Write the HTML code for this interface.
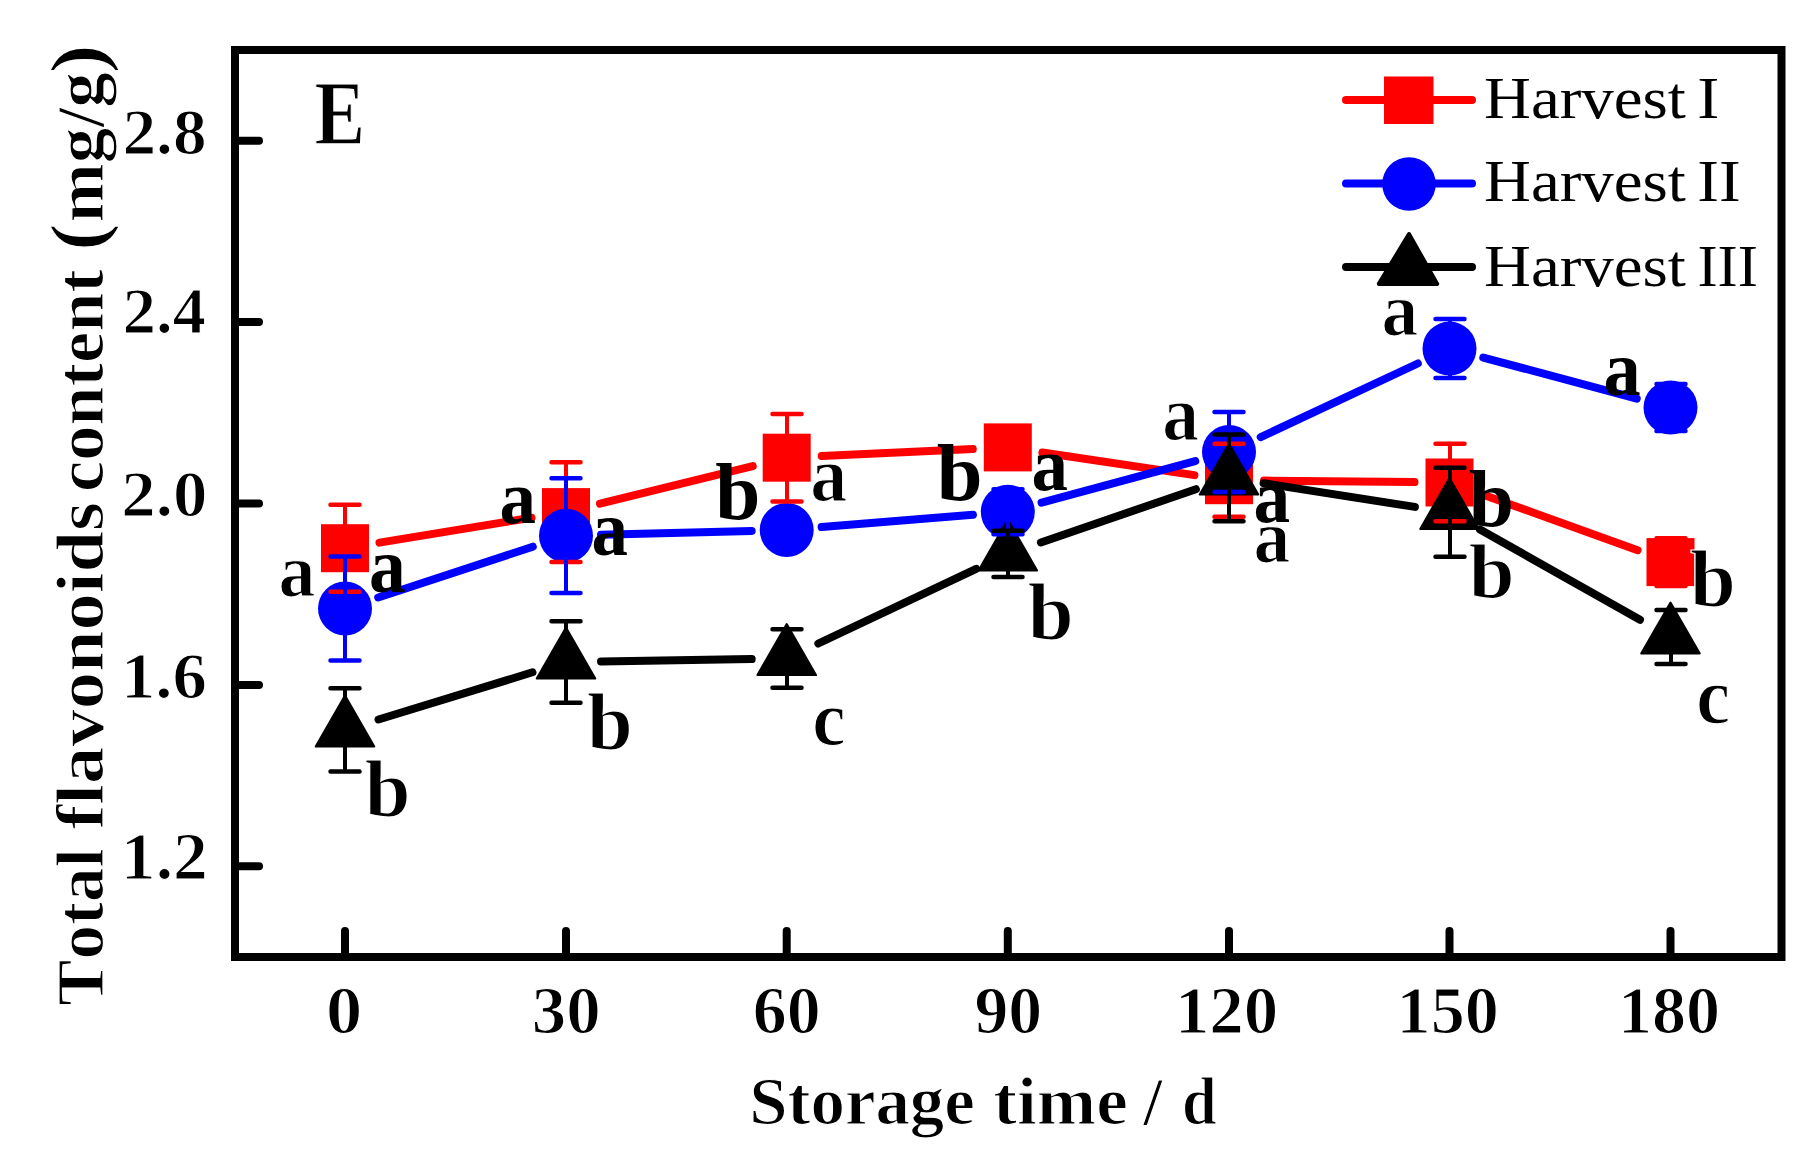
<!DOCTYPE html>
<html lang="en"><head><meta charset="utf-8"><title>Total flavonoids content</title>
<style>html,body{margin:0;padding:0;background:#fff}body{width:1819px;height:1174px;overflow:hidden}text{font-kerning:none;font-variant-ligatures:none}</style></head>
<body>
<svg width="1819" height="1174" viewBox="0 0 1819 1174" style="display:block">
<rect width="1819" height="1174" fill="#fff"/>
<path d="M379.5 542.6L531.5 517.7M600.0 503.7L752.7 466.1M821.7 456.1L972.8 449.0M1042.4 452.5L1194.4 475.1M1264.0 480.6L1414.5 482.1M1482.4 494.4L1637.6 550.2" stroke="#ff0000" stroke-width="8" stroke-linecap="round" fill="none"/>
<g fill="#ff0000"><rect x="321.0" y="524.2" width="48" height="48"/><rect x="542.0" y="488.1" width="48" height="48"/><rect x="762.7" y="433.7" width="48" height="48"/><rect x="983.8" y="423.4" width="48" height="48"/><rect x="1205.0" y="456.2" width="48" height="48"/><rect x="1425.5" y="458.5" width="48" height="48"/><rect x="1646.5" y="538.1" width="48" height="48"/></g>
<path d="M378.2 597.5L532.8 546.7M601.0 534.8L751.7 530.9M821.6 527.1L972.9 514.7M1041.6 502.7L1195.2 461.1M1260.7 437.1L1417.8 363.5M1483.3 357.6L1636.7 398.6" stroke="#0000ff" stroke-width="8" stroke-linecap="round" fill="none"/>
<g fill="#0000ff"><circle cx="345.0" cy="608.5" r="27"/><circle cx="566.0" cy="535.7" r="27"/><circle cx="786.7" cy="530.0" r="27"/><circle cx="1007.8" cy="511.8" r="27"/><circle cx="1229.0" cy="452.0" r="27"/><circle cx="1449.5" cy="348.6" r="27"/><circle cx="1670.5" cy="407.6" r="27"/></g>
<path d="M378.5 719.5L532.5 672.3M601.0 661.4L751.7 659.1M818.3 643.5L976.2 568.9M1040.9 542.5L1195.9 489.2M1263.6 483.2L1414.9 506.9M1480.0 529.5L1640.0 619.7" stroke="#000000" stroke-width="8" stroke-linecap="round" fill="none"/>
<g fill="#000" stroke="#000" stroke-width="2" stroke-linejoin="round"><path d="M345.0 695.4L374.3 746.4H315.7Z"/><path d="M566.0 627.6L595.3 678.6H536.7Z"/><path d="M786.7 624.1L816.0 675.1H757.4Z"/><path d="M1007.8 519.5L1037.1 570.5H978.5Z"/><path d="M1229.0 443.4L1258.3 494.4H1199.7Z"/><path d="M1449.5 477.9L1478.8 528.9H1420.2Z"/><path d="M1670.5 602.5L1699.8 653.5H1641.2Z"/></g>
<g stroke="#ff0000" fill="none"><path d="M345 504.7V591.7M566 462.2V562.0M787 414.0V501.4M1008 435.4V459.4M1229 443.7V516.7M1450 443.7V521.3M1671 538.3V585.9" stroke-width="4"/><path d="M330.5 504.7h29M330.5 591.7h29M551.5 462.2h29M551.5 562.0h29M772.5 414.0h29M772.5 501.4h29M993.5 435.4h29M993.5 459.4h29M1214.5 443.7h29M1214.5 516.7h29M1435.5 443.7h29M1435.5 521.3h29M1656.5 538.3h29M1656.5 585.9h29" stroke-width="4.5" stroke-linecap="round"/></g>
<g stroke="#0000ff" fill="none"><path d="M345 556.6V660.4M566 478.3V593.1M787 518.0V542.0M1008 489.3V534.3M1229 412.1V491.9M1450 319.1V378.1M1671 384.1V431.1" stroke-width="4"/><path d="M330.5 556.6h29M330.5 660.4h29M551.5 478.3h29M551.5 593.1h29M772.5 518.0h29M772.5 542.0h29M993.5 489.3h29M993.5 534.3h29M1214.5 412.1h29M1214.5 491.9h29M1435.5 319.1h29M1435.5 378.1h29M1656.5 384.1h29M1656.5 431.1h29" stroke-width="4.5" stroke-linecap="round"/></g>
<g stroke="#000000" fill="none"><path d="M345 688.2V771.4M566 621.2V702.8M787 629.2V687.8M1008 530.7V577.1M1229 434.4V521.2M1450 467.8V556.8M1671 609.9V663.9" stroke-width="4"/><path d="M330.5 688.2h29M330.5 771.4h29M551.5 621.2h29M551.5 702.8h29M772.5 629.2h29M772.5 687.8h29M993.5 530.7h29M993.5 577.1h29M1214.5 434.4h29M1214.5 521.2h29M1435.5 467.8h29M1435.5 556.8h29M1656.5 609.9h29M1656.5 663.9h29" stroke-width="4.5" stroke-linecap="round"/></g>
<rect x="235.0" y="50.0" width="1546.5" height="907.0" fill="none" stroke="#000" stroke-width="8"/>
<path d="M345.0 957.0V931M566.0 957.0V931M786.7 957.0V931M1007.8 957.0V931M1229.0 957.0V931M1449.5 957.0V931M1670.5 957.0V931M235.0 866.3H259M235.0 684.9H259M235.0 503.5H259M235.0 322.1H259M235.0 140.7H259" stroke="#000" stroke-width="8" stroke-linecap="round" fill="none"/>
<g style="font-family:'Liberation Serif',serif;font-weight:bold" fill="#000" stroke="#fff" stroke-width="1.2">
<text transform="matrix(1.0980 0 0 1.0325 325.88 1032.92)" font-size="66">0</text>
<text transform="matrix(1.0450 0 0 1.0325 531.81 1032.92)" font-size="66">30</text>
<text transform="matrix(1.0275 0 0 1.0325 752.73 1032.92)" font-size="66">60</text>
<text transform="matrix(1.0274 0 0 1.0325 974.44 1032.92)" font-size="66">90</text>
<text transform="matrix(1.0444 0 0 1.0325 1174.89 1032.92)" font-size="66">120</text>
<text transform="matrix(1.0335 0 0 1.0325 1396.54 1032.92)" font-size="66">150</text>
<text transform="matrix(1.0324 0 0 1.0325 1617.95 1032.92)" font-size="66">180</text>
<text transform="matrix(1.0200 0 0 1.0071 122.44 154.10)" font-size="66">2.8</text>
<text transform="matrix(1.0135 0 0 0.9907 122.46 333.22)" font-size="66">2.4</text>
<text transform="matrix(1.0438 0 0 1.0027 121.37 515.91)" font-size="66">2.0</text>
<text transform="matrix(1.0433 0 0 1.0064 120.89 698.00)" font-size="66">1.6</text>
<text transform="matrix(1.0549 0 0 1.0086 120.83 878.90)" font-size="66">1.2</text>
<text transform="translate(0 1123.5)"><tspan x="749.29" font-size="68" textLength="225.56" lengthAdjust="spacingAndGlyphs">Storage</tspan> <tspan x="993.33" font-size="68" textLength="134.46" lengthAdjust="spacingAndGlyphs">time</tspan> <tspan x="1143.19" font-size="68" textLength="19.14" lengthAdjust="spacingAndGlyphs">/</tspan> <tspan x="1182.00" font-size="68" textLength="34.69" lengthAdjust="spacingAndGlyphs">d</tspan></text>
<text transform="matrix(0 -1 1 0 103 0)"><tspan x="-1005.68" font-size="68" textLength="157.31" lengthAdjust="spacingAndGlyphs">Total</tspan> <tspan x="-829.56" font-size="68" textLength="327.64" lengthAdjust="spacingAndGlyphs">flavonoids</tspan> <tspan x="-492.06" font-size="68" textLength="222.79" lengthAdjust="spacingAndGlyphs">content</tspan> <tspan x="-250.71" font-size="77" textLength="27.42" lengthAdjust="spacingAndGlyphs">(</tspan><tspan x="-222.46" font-size="68" textLength="150.33" lengthAdjust="spacingAndGlyphs">mg/g</tspan><tspan x="-73.47" font-size="77" textLength="29.36" lengthAdjust="spacingAndGlyphs">)</tspan></text>
<text transform="matrix(0.8615 0 0 1.0236 314.47 143.90)" font-size="88">E</text>
<text transform="matrix(0.9712 0 0 1.0060 278.40 595.94)" font-size="76">a</text>
<text transform="matrix(0.9712 0 0 1.0170 810.30 501.23)" font-size="76">a</text>
<text transform="matrix(0.9654 0 0 1.0197 1162.32 440.23)" font-size="76">a</text>
<text transform="matrix(0.9654 0 0 1.0115 1253.42 562.23)" font-size="76">a</text>
<text transform="matrix(0.9654 0 0 1.0143 1381.42 335.03)" font-size="76">a</text>
<text transform="matrix(1.0299 0 0 1.0071 364.87 815.79)" font-size="80">b</text>
<text transform="matrix(1.0299 0 0 1.0053 587.07 748.60)" font-size="80">b</text>
<text transform="matrix(1.0323 0 0 1.0106 1027.67 639.09)" font-size="80">b</text>
<text transform="matrix(1.0299 0 0 0.9911 1468.77 597.71)" font-size="80">b</text>
<text transform="matrix(1.0299 0 0 1.0124 1689.97 606.19)" font-size="80">b</text>
<text transform="matrix(0.9877 0 0 1.0280 812.37 744.72)" font-size="76">c</text>
<text transform="matrix(1.0014 0 0 1.0471 1696.14 723.20)" font-size="76">c</text>
</g>
<g style="font-family:'Liberation Serif',serif;font-weight:bold" fill="#000">
<text transform="matrix(0.9683 0 0 1.0252 369.11 592.42)" font-size="76">a</text>
<text transform="matrix(0.9596 0 0 1.0033 499.43 522.64)" font-size="76">a</text>
<text transform="matrix(0.9596 0 0 1.0170 591.43 555.03)" font-size="76">a</text>
<text transform="matrix(0.9596 0 0 1.0115 1031.43 490.03)" font-size="76">a</text>
<text transform="matrix(0.9654 0 0 1.0143 1253.42 522.23)" font-size="76">a</text>
<text transform="matrix(0.9799 0 0 1.0280 1603.48 395.32)" font-size="76">a</text>
<text transform="matrix(1.0149 0 0 1.0035 715.19 519.00)" font-size="80">b</text>
<text transform="matrix(1.0299 0 0 1.0018 936.87 499.90)" font-size="80">b</text>
<text transform="matrix(1.0174 0 0 0.9965 1468.78 525.60)" font-size="80">b</text>
</g>
<path d="M1346 100H1472" stroke="#ff0000" stroke-width="8" stroke-linecap="round"/>
<rect x="1384" y="76.5" width="49.5" height="47.5" fill="#ff0000"/>
<path d="M1346 183.5H1472" stroke="#0000ff" stroke-width="8" stroke-linecap="round"/>
<circle cx="1409" cy="184" r="26.8" fill="#0000ff"/>
<path d="M1346 267H1472" stroke="#000" stroke-width="8" stroke-linecap="round"/>
<path d="M1409 234L1437.2 283.9H1378.8Z" fill="#000" stroke="#000" stroke-width="4" stroke-linejoin="round"/>
<g style="font-family:'Liberation Serif',serif;font-weight:normal" fill="#000">
<text transform="matrix(1.1191 0 0 1.0111 1484.05 117.81)" font-size="58">Harvest <tspan x="190.53" textLength="19.72" lengthAdjust="spacingAndGlyphs">I</tspan></text>
<text transform="matrix(1.1191 0 0 1.0111 1484.05 200.81)" font-size="58">Harvest <tspan x="190.57" textLength="38.71" lengthAdjust="spacingAndGlyphs">II</tspan></text>
<text transform="matrix(1.1191 0 0 1.0215 1484.05 286.01)" font-size="58">Harvest <tspan x="190.71" textLength="53.99" lengthAdjust="spacingAndGlyphs">III</tspan></text>
</g>
</svg>
</body></html>
